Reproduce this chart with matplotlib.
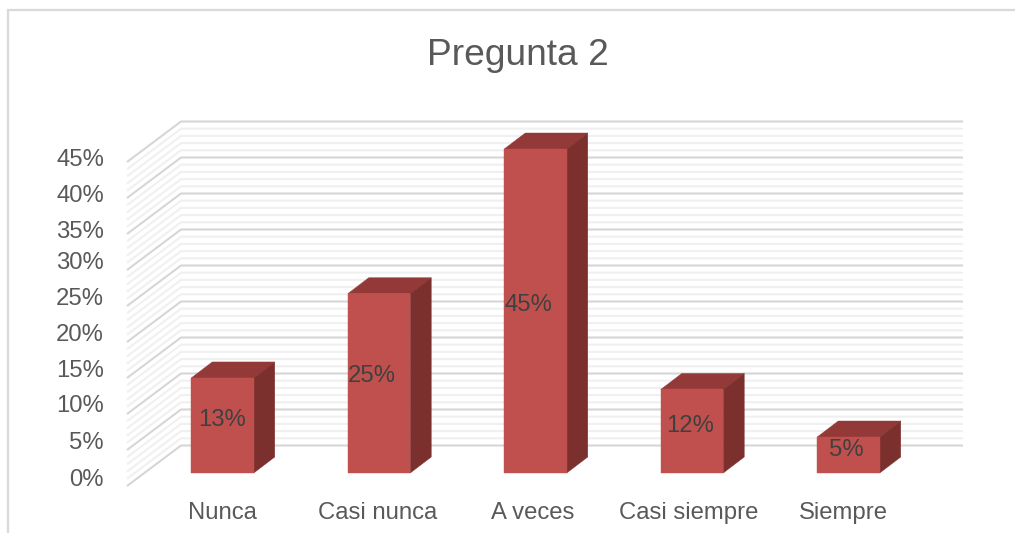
import matplotlib
matplotlib.use("Agg")
import matplotlib.pyplot as plt
from matplotlib.patches import Polygon

plt.rcParams['font.family'] = ['Liberation Sans', 'DejaVu Sans']

categories = ["Nunca", "Casi nunca", "A veces", "Casi siempre", "Siempre"]
values = [13.2, 24.9, 45, 11.6, 5]
tick_values = [0, 5, 10, 15, 20, 25, 30, 35, 40, 45]
tick_labels = ["0%", "5%", "10%", "15%", "20%", "25%", "30%", "35%", "40%", "45%"]
title = "Pregunta 2"

W, H = 1015, 533
fig = plt.figure(figsize=(W / 100, H / 100), dpi=100, facecolor="white")
ax = fig.add_axes([0, 0, 1, 1])

# scales: one category = 156.5 px with the first centred at 222.5 px;
# one percent = 7.2 px with the bars' base at y = 473 px from the top
PX_CAT, X0, PX_PCT, Y0 = 156.5, 222.5, 7.2, 473
ax.set_xlim(-X0 / PX_CAT, (W - X0) / PX_CAT)
ax.set_ylim((Y0 - H) / PX_PCT, Y0 / PX_PCT)
ax.axis("off")

def xd(px):
    return (px - X0) / PX_CAT
def yd(px):
    return (Y0 - px) / PX_PCT

# chart frame: the crop keeps only its top and left edges
frame = "#D9D9D9"
ax.plot([xd(8), xd(8), xd(1015)], [yd(533), yd(10), yd(10)],
        color=frame, lw=1.6, zorder=1, solid_joinstyle="miter")

# walls and gridlines
wall_fl, wall_bl, wall_r = xd(127), xd(181), xd(963)
front0, back0 = yd(486), yd(445.5)
for v in range(0, 46):
    major = v % 5 == 0
    c = "#D6D6D6" if major else "#F0F0F0"
    z = 2.5 if major else 2
    ax.plot([wall_fl, wall_bl, wall_r], [front0 + v, back0 + v, back0 + v],
            color=c, lw=1.5, zorder=z, solid_joinstyle="miter", solid_capstyle="butt")

# bars
bar_w = 62.5 / PX_CAT
dx, dy = 21 / PX_CAT, 16 / PX_PCT
front_c, top_c, side_c = "#C0504D", "#933937", "#7C302E"
xs = list(range(len(categories)))
ax.bar(xs, values, width=bar_w, color=front_c, edgecolor=front_c, linewidth=0.3, zorder=5)
for x, v in zip(xs, values):
    l, r = x - bar_w / 2, x + bar_w / 2
    ax.add_patch(Polygon([(l, v), (r, v), (r + dx, v + dy), (l + dx, v + dy)],
                         closed=True, fc=top_c, ec=top_c, lw=0.3, zorder=4.9))
    ax.add_patch(Polygon([(r, 0), (r + dx, dy), (r + dx, v + dy), (r, v)],
                         closed=True, fc=side_c, ec=side_c, lw=0.3, zorder=4.9))

# data labels, placed where the reference has them
label_px = [(222, 420), (372, 376), (528, 305), (690, 425.5), (846, 450)]
for (px, py), v in zip(label_px, values):
    ax.text(xd(px), yd(py), f"{round(v)}%", ha="center", va="center", fontsize=17.2,
            color="#404040", zorder=6)

# axis labels
tick_px = [480, 443, 406, 371, 335, 299, 263, 232, 196, 160]
for py, tl in zip(tick_px, tick_labels):
    ax.text(xd(104), yd(py), tl, ha="right", va="center", fontsize=17.2, color="#595959")
cat_px = [222, 377.5, 533, 688.5, 843.5]
for px, c in zip(cat_px, categories):
    ax.text(xd(px), yd(513), c, ha="center", va="center", fontsize=17.2, color="#595959")

ax.text(xd(517.5), yd(56), title, ha="center", va="center", fontsize=26.7, color="#595959")

fig.savefig("out.png", dpi=100)
